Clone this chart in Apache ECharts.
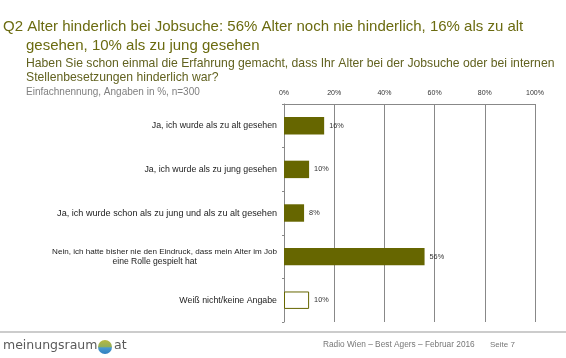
<!DOCTYPE html>
<html><head><meta charset="utf-8">
<script src="https://cdn.jsdelivr.net/npm/echarts@6/dist/echarts.min.js"></script>
<style>html,body{margin:0;padding:0;background:#fff}#c{width:566px;height:358px}</style>
</head><body><div id="c"></div>
<script>
const categories = [
  "Ja, ich wurde als zu alt gesehen",
  "Ja, ich wurde als zu jung gesehen",
  "Ja, ich wurde schon als zu jung und als zu alt gesehen",
  "Nein, ich hatte bisher nie den Eindruck, dass mein Alter im Job\neine Rolle gespielt hat",
  "Weiß nicht/keine Angabe"
];
const values = [16, 10, 8, 56, 10];
const tickLabels = ["0%", "20%", "40%", "60%", "80%", "100%"];

const olive = '#666600';
const chart = echarts.init(document.getElementById('c'), null, {renderer: 'canvas'});
const F = 'Liberation Sans, Arial, sans-serif';

chart.setOption({
  animation: false,
  grid: {left: 284, right: 31, top: 104, bottom: 36, containLabel: false},
  xAxis: {
    type: 'value', position: 'top', min: 0, max: 100, interval: 20,
    axisLine: {show: true, lineStyle: {color: '#888', width: 1}},
    axisTick: {show: false},
    splitLine: {show: true, lineStyle: {color: '#888', width: 1}},
    axisLabel: {
      margin: 7, fontSize: 7, color: '#333', fontFamily: F,
      formatter: (v) => tickLabels[Math.round(v / 20)]
    }
  },
  yAxis: {
    type: 'category', inverse: true, data: categories,
    axisLine: {show: true, lineStyle: {color: '#888', width: 1}},
    axisTick: {show: true, length: 2, lineStyle: {color: '#888'}},
    axisLabel: {
      margin: 7, fontSize: 8.8, color: '#222', fontFamily: F, lineHeight: 10,
      formatter: (v, i) => {
        const p = v.split('\n');
        if (p.length > 1) return '{a|' + p[0] + '}\n{b|' + p[1] + '}';
        if (i === 2) return '{w|' + v + '}';
        return v;
      },
      rich: {
        a: {fontSize: 8.1, color: '#222', fontFamily: F, lineHeight: 10},
        b: {fontSize: 8.6, color: '#222', fontFamily: F, lineHeight: 10, padding: [0, 80, 0, 0]},
        w: {fontSize: 9.1, color: '#222', fontFamily: F, lineHeight: 10}
      }
    }
  },
  series: [{
    type: 'bar', barCategoryGap: '60%',
    data: values.map((v, i) => i === values.length - 1
      ? {value: v, itemStyle: {color: '#fff', borderColor: olive, borderWidth: 1}}
      : {value: v}),
    itemStyle: {color: olive},
    label: {show: true, position: 'right', distance: 5, formatter: '{c}%', fontSize: 7.3, color: '#333', fontFamily: F}
  }],
  graphic: [
    {type: 'text', left: 3, top: 19, style: {text: 'Q2 Alter hinderlich bei Jobsuche: 56% Alter noch nie hinderlich, 16% als zu alt', fontSize: 15, fill: '#6b6b10', fontFamily: F}},
    {type: 'text', left: 26, top: 38, style: {text: 'gesehen, 10% als zu jung gesehen', fontSize: 15, fill: '#6b6b10', fontFamily: F}},
    {type: 'text', left: 26, top: 58, style: {text: 'Haben Sie schon einmal die Erfahrung gemacht, dass Ihr Alter bei der Jobsuche oder bei internen', fontSize: 12.2, fill: '#626220', fontFamily: F}},
    {type: 'text', left: 26, top: 72, style: {text: 'Stellenbesetzungen hinderlich war?', fontSize: 12.2, fill: '#626220', fontFamily: F}},
    {type: 'text', left: 26, top: 87, style: {text: 'Einfachnennung, Angaben in %, n=300', fontSize: 10, fill: '#808080', fontFamily: F}},
    {type: 'line', shape: {x1: 0, y1: 332, x2: 566, y2: 332}, style: {stroke: '#999', lineWidth: 1}},
    {type: 'text', left: 3, top: 339, style: {text: 'meinungsraum', fontSize: 12.5, fill: '#5a5a5a', fontFamily: 'DejaVu Sans, sans-serif'}},
    {type: 'circle', shape: {cx: 105, cy: 347, r: 7}, style: {fill: new echarts.graphic.LinearGradient(0, 0, 0, 1, [
      {offset: 0, color: '#b8b840'}, {offset: 0.5, color: '#8fae5a'}, {offset: 0.55, color: '#4a9ad0'}, {offset: 1, color: '#2f7fc0'}])}},
    {type: 'text', left: 114, top: 339, style: {text: 'at', fontSize: 12.5, fill: '#5a5a5a', fontFamily: 'DejaVu Sans, sans-serif'}},
    {type: 'text', left: 323, top: 341, style: {text: 'Radio Wien – Best Agers – Februar 2016', fontSize: 8.3, fill: '#777', fontFamily: F}},
    {type: 'text', left: 490, top: 341, style: {text: 'Seite 7', fontSize: 8, fill: '#777', fontFamily: F}}
  ]
});
</script></body></html>
